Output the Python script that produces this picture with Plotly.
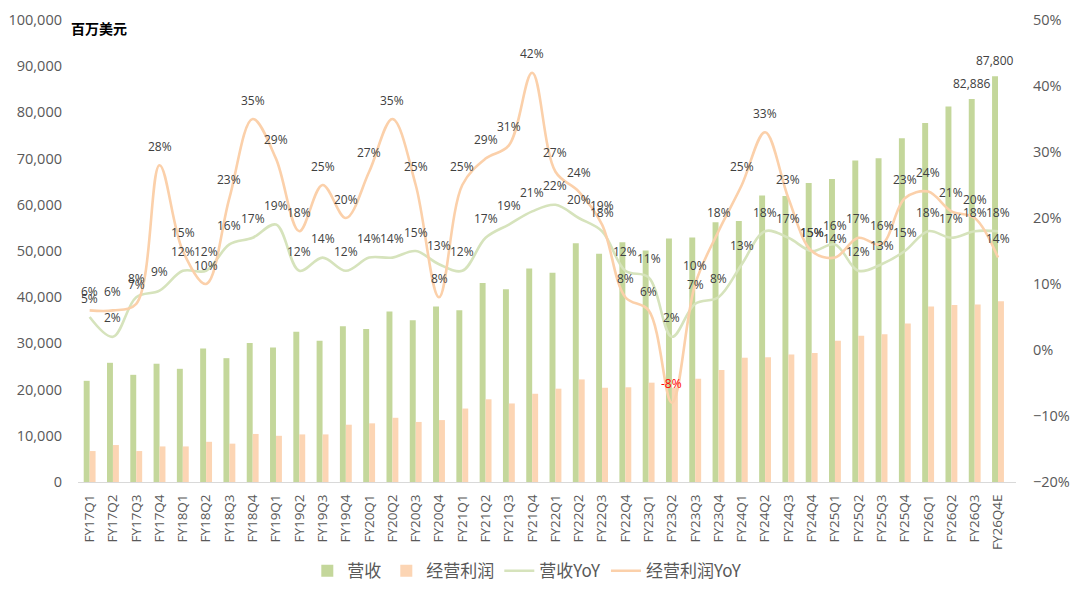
import plotly.graph_objects as go

quarters = [f"FY{y}Q{q}" for y in range(17, 26) for q in range(1, 5)] + ["FY26Q1", "FY26Q2", "FY26Q3", "FY26Q4E"]

revenue = [21900, 25800, 23200, 25600,
           24500, 28900, 26800, 30100,
           29100, 32500, 30600, 33700,
           33100, 36900, 35000, 38000,
           37200, 43100, 41700, 46200,
           45300, 51700, 49400, 51900,
           50100, 52700, 52900, 56200,
           56500, 62000, 61900, 64700,
           65600, 69600, 70100, 74400,
           77700, 81300, 82886, 87800]

op_profit = [6700, 8000, 6700, 7700,
             7700, 8700, 8300, 10400,
             10000, 10300, 10300, 12400,
             12700, 13900, 13000, 13400,
             15900, 17900, 17000, 19100,
             20200, 22200, 20400, 20500,
             21500, 20400, 22350, 24250,
             26900, 27000, 27600, 27900,
             30550, 31650, 32000, 34300,
             38000, 38300, 38400, 39100]

rev_yoy = [5, 2, 8, 9,
           12, 12, 16, 17,
           19, 12, 14, 12,
           14, 14, 15, 13,
           12, 17, 19, 21,
           22, 20, 18, 12,
           11, 2, 7, 8,
           13, 18, 17, 15,
           16, 12, 13, 15,
           18, 17, 18, 18]

op_yoy = [6, 6, 7, 28,
          15, 10, 23, 35,
          29, 18, 25, 20,
          27, 35, 25, 8,
          25, 29, 31, 42,
          27, 24, 19, 8,
          6, -8, 10, 18,
          25, 33, 23, 15,
          14, 17, 16, 23,
          24, 21, 20, 14]

bar_label_idx = [38, 39]

FONT = "Open Sans, Noto Sans CJK SC"
CJK = "Noto Sans CJK SC"
GREEN = "#c4d79b"
PEACH = "#fcd5b4"
GREEN_LINE = "#d6e3bc"
PEACH_LINE = "#fbd0aa"
TXT = "#404040"
AX = "#595959"

fig = go.Figure()
fig.add_trace(go.Bar(x=quarters, y=revenue, name="营收", marker=dict(color=GREEN, line=dict(width=0)), yaxis="y"))
fig.add_trace(go.Bar(x=quarters, y=op_profit, name="经营利润", marker=dict(color=PEACH, line=dict(width=0)), yaxis="y"))
fig.add_trace(go.Scatter(x=quarters, y=[v / 100 for v in rev_yoy], name="营收YoY", mode="lines",
                         line=dict(color=GREEN_LINE, width=2.6, shape="spline", smoothing=1.0), yaxis="y2"))
fig.add_trace(go.Scatter(x=quarters, y=[v / 100 for v in op_yoy], name="经营利润YoY", mode="lines",
                         line=dict(color=PEACH_LINE, width=2.6, shape="spline", smoothing=1.0), yaxis="y2"))

annotations = []
for series in (rev_yoy, op_yoy):
    for i, q in enumerate(quarters):
        annotations.append(dict(x=q, y=series[i] / 100, xref="x", yref="y2", text=f"{series[i]}%",
                                showarrow=False, yshift=19,
                                font=dict(family=FONT, size=12, color="red" if series[i] < 0 else TXT)))
for i in bar_label_idx:
    annotations.append(dict(x=quarters[i], y=revenue[i], xref="x", yref="y", text=f"{revenue[i]:,}",
                            showarrow=False, yshift=16, xshift=-3,
                            font=dict(family=FONT, size=12, color=TXT)))
annotations.append(dict(x=-0.01, y=0.983, xref="paper", yref="paper", text="<b>百万美元</b>", showarrow=False,
                        xanchor="left", yanchor="middle", font=dict(family=CJK, size=14, color="#000000")))

fig.update_layout(
    width=1080, height=609,
    margin=dict(l=78, r=64, t=20, b=127, autoexpand=False),
    paper_bgcolor="white", plot_bgcolor="white",
    barmode="group", bargap=0.49, bargroupgap=0,
    font=dict(family=FONT, color=AX),
    showlegend=True,
    legend=dict(orientation="h", x=0.479, xanchor="center", y=-0.193, yanchor="middle",
                font=dict(family=CJK, size=17, color=AX), itemwidth=30, traceorder="normal"),
    xaxis=dict(type="category", tickangle=-90, showgrid=False, showline=True, linecolor="#d9d9d9",
               linewidth=1, ticks="", tickfont=dict(family=FONT, size=13.5, color=AX), ticklabelstandoff=6),
    yaxis=dict(range=[0, 100000], dtick=10000, tickformat=",", showgrid=False, zeroline=False,
               showline=False, ticks="", tickfont=dict(family=FONT, size=14.5, color=AX), ticklabelstandoff=15),
    yaxis2=dict(range=[-0.2, 0.5], dtick=0.1, tickformat=".0%", overlaying="y", side="right",
                showgrid=False, zeroline=False, showline=False, ticks="",
                tickfont=dict(family=FONT, size=14.5, color=AX), ticklabelstandoff=16),
    annotations=annotations,
)

fig.write_html("out.html")
